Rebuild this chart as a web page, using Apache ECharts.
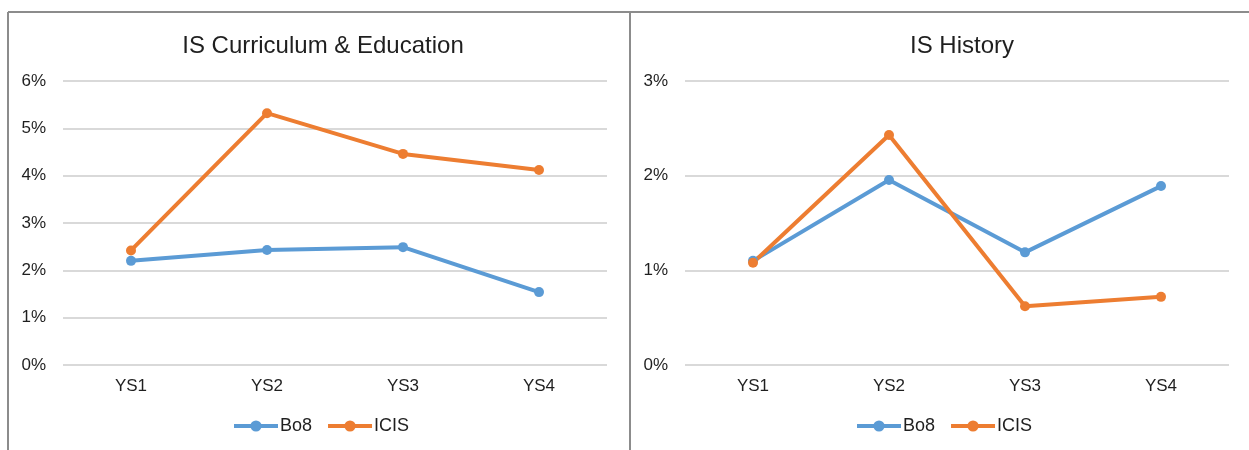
<!DOCTYPE html>
<html>
<head>
<meta charset="utf-8">
<script src="https://cdn.jsdelivr.net/npm/echarts@6/dist/echarts.min.js"></script>
<style>
  html, body { margin: 0; padding: 0; background: #fff; }
  #chart { width: 1249px; height: 450px; }
</style>
</head>
<body>
<div id="chart"></div>
<script>
// Survey years shared by both panels
const years = ['YS1', 'YS2', 'YS3', 'YS4'];

// IS Curriculum & Education (percent)
const curriculumBo8 = [2.2, 2.43, 2.49, 1.54];
const curriculumICIS = [2.42, 5.32, 4.46, 4.12];

// IS History (percent)
const historyBo8 = [1.1, 1.955, 1.19, 1.89];
const historyICIS = [1.08, 2.43, 0.62, 0.72];

const panelTitles = ['IS Curriculum & Education', 'IS History'];
const seriesNames = ['Bo8', 'ICIS'];

const BLUE = '#5B9BD5';
const ORANGE = '#ED7D31';
const TEXT = '#1f1f1f';
const FONT = 'Liberation Sans, Arial, sans-serif';

const chart = echarts.init(document.getElementById('chart'), null, { renderer: 'canvas' });

function lineSeries(name, data, color, idx) {
  return {
    name: name,
    type: 'line',
    xAxisIndex: idx,
    yAxisIndex: idx,
    data: data,
    symbol: 'circle',
    symbolSize: 10,
    lineStyle: { color: color, width: 4 },
    itemStyle: { color: color },
    emphasis: { disabled: true },
    animation: false
  };
}

function xAxis(idx) {
  return {
    type: 'category',
    gridIndex: idx,
    data: years,
    axisLine: { show: false },
    axisTick: { show: false },
    axisLabel: { color: TEXT, fontSize: 17, fontFamily: FONT, margin: 13 }
  };
}

function yAxis(idx, max) {
  return {
    type: 'value',
    gridIndex: idx,
    min: 0,
    max: max,
    interval: 1,
    axisLine: { show: false },
    axisTick: { show: false },
    splitLine: { lineStyle: { color: '#d9d9d9', width: 2 } },
    axisLabel: { color: TEXT, fontSize: 17, fontFamily: FONT, margin: 17, formatter: '{value}%' }
  };
}

function legend(leftX) {
  return {
    data: seriesNames,
    left: leftX,
    top: 412,
    itemWidth: 44,
    itemHeight: 14,
    itemGap: 14,
    lineStyle: { width: 4 },
    textStyle: { color: TEXT, fontSize: 18, fontFamily: FONT, padding: [0, 0, 0, -3] },
    selectedMode: false
  };
}

const borderColor = '#8c8c8c';

chart.setOption({
  backgroundColor: '#fff',
  animation: false,
  title: [
    { text: panelTitles[0], left: 318, top: 29, textAlign: 'center',
      textStyle: { color: TEXT, fontSize: 24, fontWeight: 'normal', fontFamily: FONT } },
    { text: panelTitles[1], left: 957, top: 29, textAlign: 'center',
      textStyle: { color: TEXT, fontSize: 24, fontWeight: 'normal', fontFamily: FONT } }
  ],
  legend: [legend(227), legend(850)],
  grid: [
    { left: 63, top: 81, width: 544, height: 284 },
    { left: 685, top: 81, width: 544, height: 284 }
  ],
  xAxis: [xAxis(0), xAxis(1)],
  yAxis: [yAxis(0, 6), yAxis(1, 3)],
  series: [
    lineSeries(seriesNames[0], curriculumBo8, BLUE, 0),
    lineSeries(seriesNames[1], curriculumICIS, ORANGE, 0),
    lineSeries(seriesNames[0], historyBo8, BLUE, 1),
    lineSeries(seriesNames[1], historyICIS, ORANGE, 1)
  ],
  graphic: [
    { type: 'line', shape: { x1: 8, y1: 12, x2: 1249, y2: 12 }, style: { stroke: borderColor, lineWidth: 2 } },
    { type: 'line', shape: { x1: 8, y1: 12, x2: 8, y2: 450 }, style: { stroke: borderColor, lineWidth: 2 } },
    { type: 'line', shape: { x1: 630, y1: 12, x2: 630, y2: 450 }, style: { stroke: borderColor, lineWidth: 2 } }
  ]
});
</script>
</body>
</html>
